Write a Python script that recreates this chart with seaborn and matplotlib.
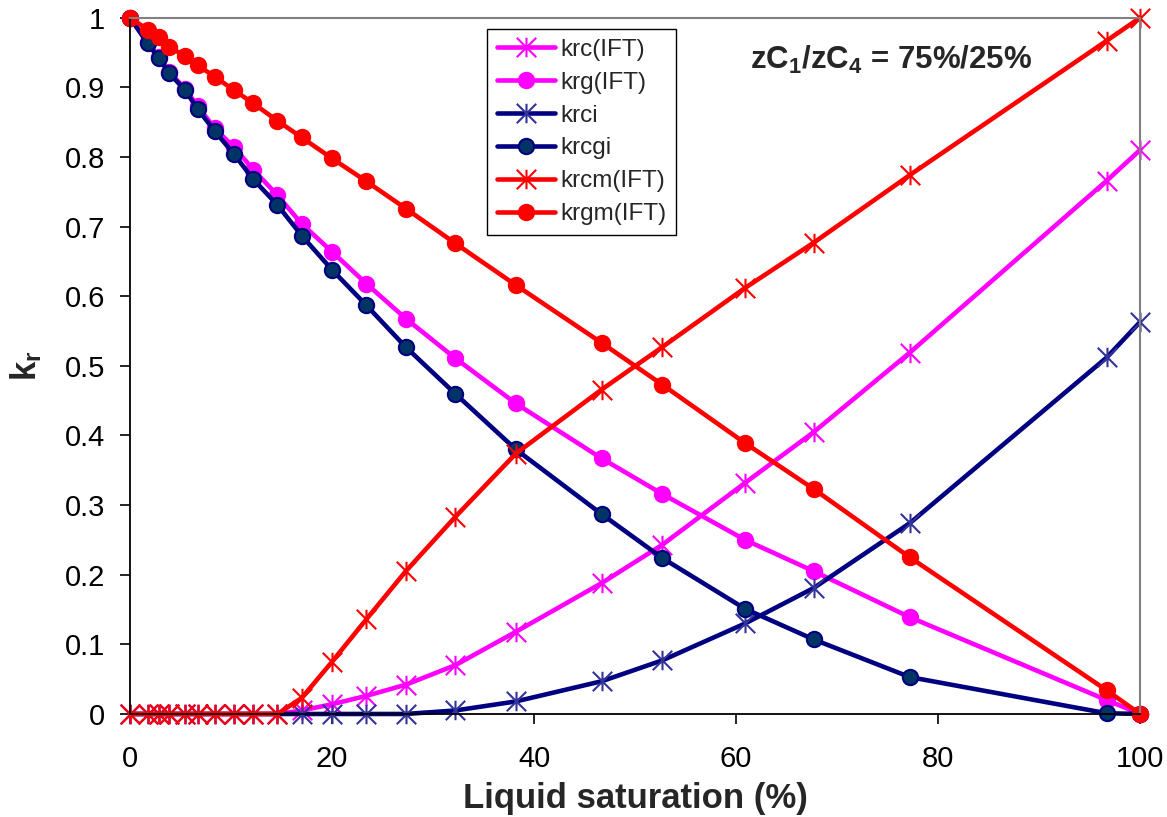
import numpy as np
import pandas as pd
import matplotlib
matplotlib.use('Agg')
import matplotlib.pyplot as plt
from matplotlib.path import Path
from matplotlib.ticker import FuncFormatter
import seaborn as sns

# liquid saturation (%) and relative permeabilities
sat = [0, 1.75, 2.85, 3.9, 5.45, 6.7, 8.4, 10.3, 12.2, 14.6, 17.0, 20.0, 23.4,
       27.3, 32.2, 38.2, 46.7, 52.7, 60.9, 67.7, 77.2, 96.7, 100]

krc_ift = [0, 0, 0, 0, 0, 0, 0, 0, 0, 0, 0.005, 0.014, 0.026,
           0.042, 0.070, 0.118, 0.188, 0.243, 0.332, 0.405, 0.519, 0.766, 0.810]
krg_ift = [1.0, 0.965, 0.944, 0.922, 0.898, 0.873, 0.841, 0.814, 0.782, 0.745, 0.704, 0.664, 0.618,
           0.568, 0.511, 0.446, 0.367, 0.316, 0.250, 0.205, 0.139, 0.020, 0.0]
krci = [0, 0, 0, 0, 0, 0, 0, 0, 0, 0, 0, 0, 0,
        0, 0.005, 0.018, 0.047, 0.077, 0.130, 0.181, 0.274, 0.512, 0.563]
krcgi = [1.0, 0.963, 0.942, 0.920, 0.896, 0.869, 0.837, 0.804, 0.768, 0.731, 0.687, 0.638, 0.587,
         0.527, 0.460, 0.380, 0.287, 0.224, 0.151, 0.107, 0.053, 0.001, 0.0]
krcm_ift = [0, 0, 0, 0, 0, 0, 0, 0, 0, 0, 0.023, 0.075, 0.136,
            0.205, 0.283, 0.374, 0.466, 0.527, 0.612, 0.677, 0.774, 0.967, 1.0]
krgm_ift = [1.0, 0.983, 0.973, 0.958, 0.945, 0.932, 0.915, 0.896, 0.877, 0.852, 0.828, 0.798, 0.765,
            0.726, 0.676, 0.616, 0.533, 0.473, 0.389, 0.323, 0.225, 0.034, 0.0]

sns.set_theme(style='white')
plt.rcParams['font.family'] = ['Liberation Sans', 'DejaVu Sans']
plt.rcParams['mathtext.fontset'] = 'custom'
plt.rcParams['mathtext.rm'] = 'Liberation Sans:bold'
plt.rcParams['mathtext.bf'] = 'Liberation Sans:bold'
plt.rcParams['mathtext.default'] = 'bf'

# excel style asterisk: X plus a vertical bar
star = Path([(0, -1), (0, 1), (-1, -1), (1, 1), (-1, 1), (1, -1)],
            [Path.MOVETO, Path.LINETO] * 3)

fig = plt.figure(figsize=(11.67, 8.17), dpi=100)
ax = fig.add_axes([0.1114, 0.1261, 0.8655, 0.8522])

series = [
    ('krc(IFT)', krc_ift, '#FF00FF', star, '#FF00FF', '#FF00FF', 14),
    ('krg(IFT)', krg_ift, '#FF00FF', 'o', '#FF00FF', '#FF00FF', 11),
    ('krci', krci, '#000080', star, '#333399', '#333399', 14),
    ('krcgi', krcgi, '#000080', 'o', '#003366', '#000080', 11),
    ('krcm(IFT)', krcm_ift, '#FF0000', star, '#FF0000', '#FF0000', 14),
    ('krgm(IFT)', krgm_ift, '#FF0000', 'o', '#FF0000', '#FF0000', 11),
]
for name, vals, col, mk, mfc, mec, ms in series:
    sns.lineplot(x=sat, y=vals, ax=ax, color=col, lw=3.3, label=name,
                 marker=mk, markersize=ms, markerfacecolor=mfc,
                 markeredgecolor=mec, markeredgewidth=1.5, sort=False,
                 clip_on=False)

ax.set_xlim(0, 100)
ax.set_ylim(0, 1)
ax.set_xticks([0, 20, 40, 60, 80, 100])
ax.set_yticks(np.arange(0, 1.01, 0.1))
ax.yaxis.set_major_formatter(FuncFormatter(lambda v, p: f'{v:g}'))
ax.tick_params(axis='both', direction='out', length=7, width=1.2, labelsize=21,
               colors='black', left=True, bottom=True)
ax.tick_params(axis='x', pad=15)
ax.tick_params(axis='y', pad=11)

for side in ['left', 'bottom']:
    ax.spines[side].set_color('black')
    ax.spines[side].set_linewidth(1.3)
for side in ['top', 'right']:
    ax.spines[side].set_color('#808080')
    ax.spines[side].set_linewidth(1.5)

ax.set_xlabel('Liquid saturation (%)', fontsize=25, fontweight='bold', labelpad=7)
ax.set_ylabel('k$_{r}$', fontsize=25, fontweight='bold', labelpad=15)

ax.text(0.614, 0.94, 'zC$_{1}$/zC$_{4}$ = 75%/25%', transform=ax.transAxes,
        fontsize=22.5, fontweight='bold', va='center', ha='left')

leg = ax.legend(loc='upper left', bbox_to_anchor=(0.3535, 0.984), fontsize=17.5,
                frameon=True, fancybox=False, edgecolor='black', framealpha=1,
                handlelength=2.4, handletextpad=0.2, labelspacing=0.45,
                borderpad=0.4, borderaxespad=0)
leg.get_frame().set_linewidth(1.0)

fig.savefig('out.png', dpi=100)
